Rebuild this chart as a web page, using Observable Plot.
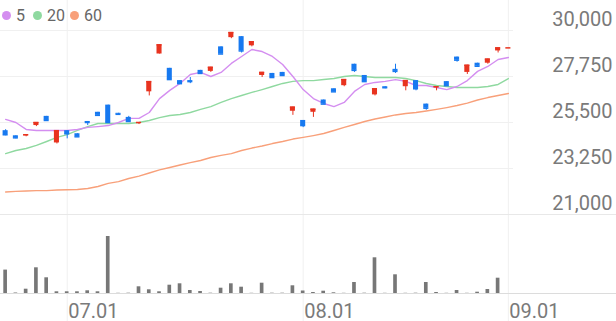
<!DOCTYPE html>
<html>
<head>
<meta charset="utf-8">
<script src="https://cdn.jsdelivr.net/npm/d3@7"></script>
<script src="https://cdn.jsdelivr.net/npm/@observablehq/plot@0.6"></script>
<style>
html, body { margin: 0; padding: 0; background: #fff; }
#chart { position: relative; width: 616px; height: 321px; overflow: hidden; font-family: Roboto, sans-serif; }
#chart svg { position: absolute; left: 0; top: 0; }
.lg-dot { position: absolute; width: 9px; height: 9px; border-radius: 50%; top: 11px; }
.lg-txt { position: absolute; top: 8px; font-size: 16px; line-height: 16px; color: #666; font-family: Roboto, sans-serif; }
</style>
</head>
<body>
<div id="chart"></div>
<script>
// ---- data ----
const dates = [
  "2025-06-23","2025-06-24","2025-06-25","2025-06-26","2025-06-27","2025-06-30",
  "2025-07-01","2025-07-02","2025-07-03","2025-07-04","2025-07-07","2025-07-08","2025-07-09","2025-07-10","2025-07-11",
  "2025-07-14","2025-07-15","2025-07-16","2025-07-17","2025-07-18","2025-07-21","2025-07-22","2025-07-23","2025-07-24",
  "2025-07-25","2025-07-28","2025-07-29","2025-07-30","2025-07-31",
  "2025-08-01","2025-08-04","2025-08-05","2025-08-06","2025-08-07","2025-08-08","2025-08-11","2025-08-12","2025-08-13",
  "2025-08-14","2025-08-18","2025-08-19","2025-08-20","2025-08-21","2025-08-22","2025-08-25","2025-08-26","2025-08-27",
  "2025-08-28","2025-08-29",
  "2025-09-01"
];
const opens = [25100,24850,24850,25350,25800,24500,25100,24950,25550,26000,
  26350,25950,25750,25450,27000,28850,28150,27550,27550,28050,
  28000,29200,29650,29700,29250,27800,27900,27950,26050,25600,
  26000,26600,27150,27300,28350,27800,26850,27250,28100,27250,
  27550,26400,27200,27500,28700,27950,28400,28400,29000,29150];
const highs = [25150,24850,24900,25500,25800,25100,25100,24950,25550,26000,
  26350,25950,25800,25500,27500,29300,28150,27550,27700,28050,
  28200,29200,29900,29700,29450,27950,27900,27950,26250,25600,
  26150,26600,27150,27600,28350,27800,27150,27250,28350,27550,
  27550,26400,27250,27500,28700,28300,28400,28600,29150,29150];
const lows = [24850,24700,24800,25300,25600,24450,24700,24800,25350,25850,
  25450,25850,25550,25400,26800,28850,27600,27400,27400,27900,
  27950,28850,29600,28900,29200,27700,27700,27800,25850,25250,
  25750,26400,27000,27250,27950,27500,26800,27150,27900,27050,
  27050,26100,27050,27300,28450,27850,28250,28350,28900,29150];
const closes = [24900,24750,24900,25500,25600,25100,24950,24800,25500,25850,
  25500,25900,25550,25500,27500,29300,27600,27400,27500,27900,
  28200,28850,29900,29000,29450,27950,27700,27800,26250,25350,
  26150,26400,27000,27600,28050,27500,27150,27200,28000,27550,
  27150,26200,27250,27300,28550,28300,28250,28600,29150,29150];
const volumes = [468000,10000,86000,514000,314000,34000,34000,34000,54000,34000,
  1140000,4000,6000,134000,74000,34000,166000,194000,60000,40000,
  6000,106000,194000,126000,4000,206000,6000,6000,154000,50000,
  20000,46000,14000,4000,220000,6000,714000,4000,374000,4000,
  6000,220000,20000,4000,60000,4000,26000,80000,306000,0];
const ma5 = [25650,25500,25160,25110,25110,25110,25110,25160,25260,25300,
  25350,25500,25700,25700,25990,26670,27070,27410,27850,27950,
  27750,27950,28390,28730,29070,28970,28730,28340,27750,27110,
  26670,26430,26280,26480,27020,27360,27460,27510,27600,27510,
  27310,27310,27210,27110,27260,27550,28000,28240,28580,28680];
const ma20 = [23980,24130,24230,24380,24570,24770,24910,25110,25300,25450,
  25450,25450,25450,25500,25600,25740,25840,25890,25990,26140,
  26280,26480,26670,26820,26970,27110,27260,27410,27510,27550,
  27550,27600,27650,27750,27800,27750,27700,27700,27700,27650,
  27550,27410,27310,27260,27210,27210,27210,27260,27360,27650];
const ma60 = [22100,22130,22150,22170,22170,22200,22210,22220,22270,22370,
  22520,22610,22760,22880,23030,23180,23300,23420,23540,23640,
  23790,23890,23980,24130,24250,24350,24470,24570,24690,24770,
  24860,24960,25110,25260,25400,25550,25670,25770,25870,25940,
  25990,26060,26140,26230,26330,26450,26600,26720,26820,26920];
const priceTicks = [30000, 27750, 25500, 23250, 21000];
const dateTicks = ["2025-07-01", "2025-08-01", "2025-09-01"];
const legendItems = ["5", "20", "60"];

// ---- styles ----
const UP = "#e8331f", DOWN = "#1779f0";
const C5 = "#d48ef0", C20 = "#8fd9a0", C60 = "#f8a07a";
const GRID = "#f0f0f0", TXT = "#7a7a7a";

const data = dates.map((d, i) => ({
  date: d, open: opens[i], high: highs[i], low: lows[i], close: closes[i],
  volume: volumes[i], ma5: ma5[i], ma20: ma20[i], ma60: ma60[i]
}));
const col = d => d.close >= d.open ? UP : DOWN;

const W = 616, H = 321, MR = 103;

const price = Plot.plot({
  width: W, height: H,
  marginTop: 30, marginBottom: 107, marginLeft: 0, marginRight: MR,
  x: {type: "band", domain: dates, padding: 0, round: false, axis: null},
  y: {domain: [21000, 30000], axis: null},
  color: {type: "identity"},
  style: {background: "transparent", fontFamily: "Roboto, sans-serif", fontSize: "20px"},
  marks: [
    Plot.ruleX(dateTicks, {x: d => d, stroke: GRID, insetTop: -30, insetBottom: -107}),
    Plot.ruleY(priceTicks.slice(0, -1), {y: d => d, stroke: GRID}),
    Plot.ruleY([21000], {y: d => d, stroke: "#e8e8e8", insetRight: -MR}),
    Plot.lineY(data, {x: "date", y: "ma60", stroke: C60, strokeWidth: 1.4}),
    Plot.lineY(data, {x: "date", y: "ma20", stroke: C20, strokeWidth: 1.4}),
    Plot.lineY(data, {x: "date", y: "ma5", stroke: C5, strokeWidth: 1.4}),
    Plot.ruleX(data, {x: "date", y1: "low", y2: "high", stroke: col, strokeWidth: 1}),
    Plot.barY(data, {x: "date", y1: "open", y2: "close", fill: col, insetLeft: 2.6, insetRight: 2.6}),
    Plot.tickY(data, {x: "date", y: "close", stroke: col, strokeWidth: 1.5, insetLeft: 2.6, insetRight: 2.6}),
    Plot.axisY(priceTicks, {
      anchor: "right", label: null, tickSize: 0, tickPadding: 0, textAnchor: "end", lineAnchor: "bottom",
      dx: 99, dy: -5, fontSize: 20, fill: TXT, tickFormat: d3.format(",")
    })
  ]
});

const vol = Plot.plot({
  width: W, height: H,
  marginTop: 233, marginBottom: 28, marginLeft: 0, marginRight: MR,
  x: {type: "band", domain: dates, padding: 0, round: false, axis: null},
  y: {domain: [0, 1200000], axis: null},
  style: {background: "transparent", fontFamily: "Roboto, sans-serif", fontSize: "20px"},
  marks: [
    Plot.ruleY([0], {y: d => d, stroke: "#dcdcdc", insetRight: -MR}),
    Plot.barY(data, {x: "date", y: "volume", fill: "#777777", insetLeft: 3.3, insetRight: 3.3}),
    Plot.axisX(dateTicks, {
      anchor: "bottom", label: null, tickSize: 0, tickPadding: 0, textAnchor: "start", lineAnchor: "bottom",
      dx: 1, dy: 24, fontSize: 20, fill: TXT, tickFormat: d => d.slice(5).replace("-", ".")
    })
  ]
});

const chart = document.getElementById("chart");
chart.appendChild(price);
chart.appendChild(vol);

// legend
const lgColors = [C5, C20, C60];
const dotLeft = [1.5, 32.5, 69.5];
const txtLeft = [16, 47, 84];
legendItems.forEach((t, i) => {
  const dot = document.createElement("span");
  dot.className = "lg-dot";
  dot.style.left = dotLeft[i] + "px";
  dot.style.background = lgColors[i];
  chart.appendChild(dot);
  const tx = document.createElement("span");
  tx.className = "lg-txt";
  tx.style.left = txtLeft[i] + "px";
  tx.textContent = t;
  chart.appendChild(tx);
});
</script>
</body>
</html>
